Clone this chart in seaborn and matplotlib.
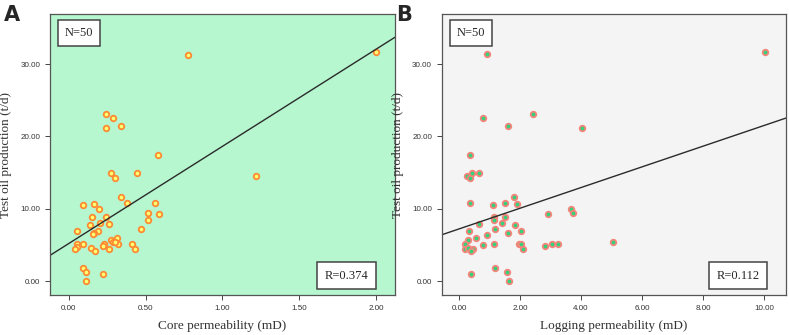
import numpy as np
import pandas as pd
import seaborn as sns
from matplotlib import pyplot as plt
from matplotlib.ticker import FormatStrFormatter

# test oil production (t/d), same wells in both panels
core_perm = [0.778, 2.00, 0.244, 0.292, 0.244, 0.344, 0.584, 0.275, 0.443, 0.305,
             1.217, 0.344, 0.383, 0.564, 0.093, 0.166, 0.197, 0.515, 0.586, 0.154,
             0.244, 0.515, 0.205, 0.262, 0.141, 0.054, 0.192, 0.166, 0.162, 0.474,
             0.314, 0.275, 0.292, 0.322, 0.231, 0.223, 0.413, 0.093, 0.054, 0.054,
             0.041, 0.145, 0.175, 0.262, 0.435, 0.097, 0.115, 0.223, 0.115, 0.300]
core_prod = [31.3, 31.6, 23.1, 22.6, 21.2, 21.5, 17.4, 15.0, 15.0, 14.2,
             14.5, 11.6, 10.8, 10.8, 10.5, 10.6, 10.0, 9.35, 9.26, 8.9,
             8.8, 8.4, 8.06, 7.9, 7.7, 6.96, 6.96, 6.7, 6.5, 7.14,
             5.9, 5.67, 5.4, 5.16, 5.16, 4.9, 5.07, 5.16, 5.16, 4.75,
             4.47, 4.56, 4.15, 4.38, 4.5, 1.8, 1.24, 1.0, 0.0, 5.35]

log_perm = [0.92, 10.02, 0.78, 2.44, 1.60, 4.02, 0.35, 0.25, 0.35, 0.44,
            0.64, 0.35, 1.80, 1.52, 1.90, 1.11, 3.68, 3.74, 2.92, 1.13,
            1.50, 1.15, 1.41, 0.66, 1.84, 0.34, 1.18, 2.03, 1.61, 0.92,
            0.55, 0.28, 0.20, 1.97, 2.03, 3.06, 3.25, 5.05, 1.14, 0.79,
            2.81, 0.20, 0.30, 0.46, 0.39, 2.08, 1.19, 1.57, 0.39, 1.64]
log_prod = [31.4, 31.6, 22.6, 23.1, 21.5, 21.2, 17.4, 14.5, 14.2, 15.0,
            15.0, 10.8, 11.6, 10.8, 10.6, 10.5, 10.0, 9.35, 9.26, 8.9,
            8.8, 8.4, 8.06, 7.9, 7.7, 6.96, 7.14, 6.96, 6.7, 6.4,
            5.9, 5.67, 5.16, 5.16, 5.07, 5.07, 5.16, 5.35, 5.07, 4.98,
            4.8, 4.47, 4.56, 4.38, 4.15, 4.47, 1.75, 1.2, 0.97, 0.0]

df_a = pd.DataFrame({'perm': core_perm, 'prod': core_prod})
df_b = pd.DataFrame({'perm': log_perm, 'prod': log_prod})

sns.set_style('ticks')
plt.rcParams['font.family'] = ['Liberation Serif', 'DejaVu Serif']

fig = plt.figure(figsize=(7.89, 3.35), dpi=100)
ax_a = fig.add_axes([0.0634, 0.119, 0.4372, 0.839])
ax_b = fig.add_axes([0.5598, 0.119, 0.4368, 0.839])

panels = [
    (ax_a, df_a, '#b6f7cf', '#ffff70', '#ff8a33', (-0.12, 2.12), [0, 0.5, 1.0, 1.5, 2.0],
     'Core permeability (mD)', 'R=0.374', 'A'),
    (ax_b, df_b, '#f4f4f4', '#33d17a', '#f5847a', (-0.57, 10.73), [0, 2, 4, 6, 8, 10],
     'Logging permeability (mD)', 'R=0.112', 'B'),
]

for ax, df, bg, fc, ec, xlim, xticks, xlabel, rtext, letter in panels:
    ax.set_facecolor(bg)
    ax.set_xlim(*xlim)
    ax.set_ylim(-1.94, 36.9)
    sns.regplot(data=df, x='perm', y='prod', ax=ax, ci=None, truncate=False,
                scatter_kws=dict(s=16, facecolor=fc, edgecolor=ec, linewidths=1.3, alpha=1),
                line_kws=dict(color='#2b2b2b', lw=1.0))
    ax.set_xlim(*xlim)
    ax.set_ylim(-1.94, 36.9)
    ax.set_xticks(xticks)
    ax.set_yticks([0, 10, 20, 30])
    ax.xaxis.set_major_formatter(FormatStrFormatter('%.2f'))
    ax.yaxis.set_major_formatter(FormatStrFormatter('%.2f'))
    ax.tick_params(labelsize=5.8, length=3.5, width=0.7, color='#444444', labelcolor='#333333')
    for lab in ax.get_xticklabels() + ax.get_yticklabels():
        lab.set_family(['Liberation Sans', 'DejaVu Sans'])
    for s in ax.spines.values():
        s.set_color('#555555')
        s.set_linewidth(0.9)
    ax.set_xlabel(xlabel, fontsize=9.5, color='#333333', labelpad=6)
    ax.set_ylabel('Test oil production (t/d)', fontsize=9.5, color='#333333', labelpad=6)

    ax.text(0.085, 0.932, 'N=50', transform=ax.transAxes, fontsize=9, ha='center', va='center',
            bbox=dict(boxstyle='square,pad=0.55', facecolor='white', edgecolor='#444444', lw=1.1))
    ax.text(0.86, 0.069, rtext, transform=ax.transAxes, fontsize=9, ha='center', va='center',
            bbox=dict(boxstyle='square,pad=0.6', facecolor='white', edgecolor='#444444', lw=1.1))

    x0 = ax.get_position().x0
    fig.text(x0 - 0.058, 0.985, letter, fontsize=15, fontweight='bold', family='DejaVu Sans',
             ha='left', va='top')

fig.savefig('out.png', dpi=100)
